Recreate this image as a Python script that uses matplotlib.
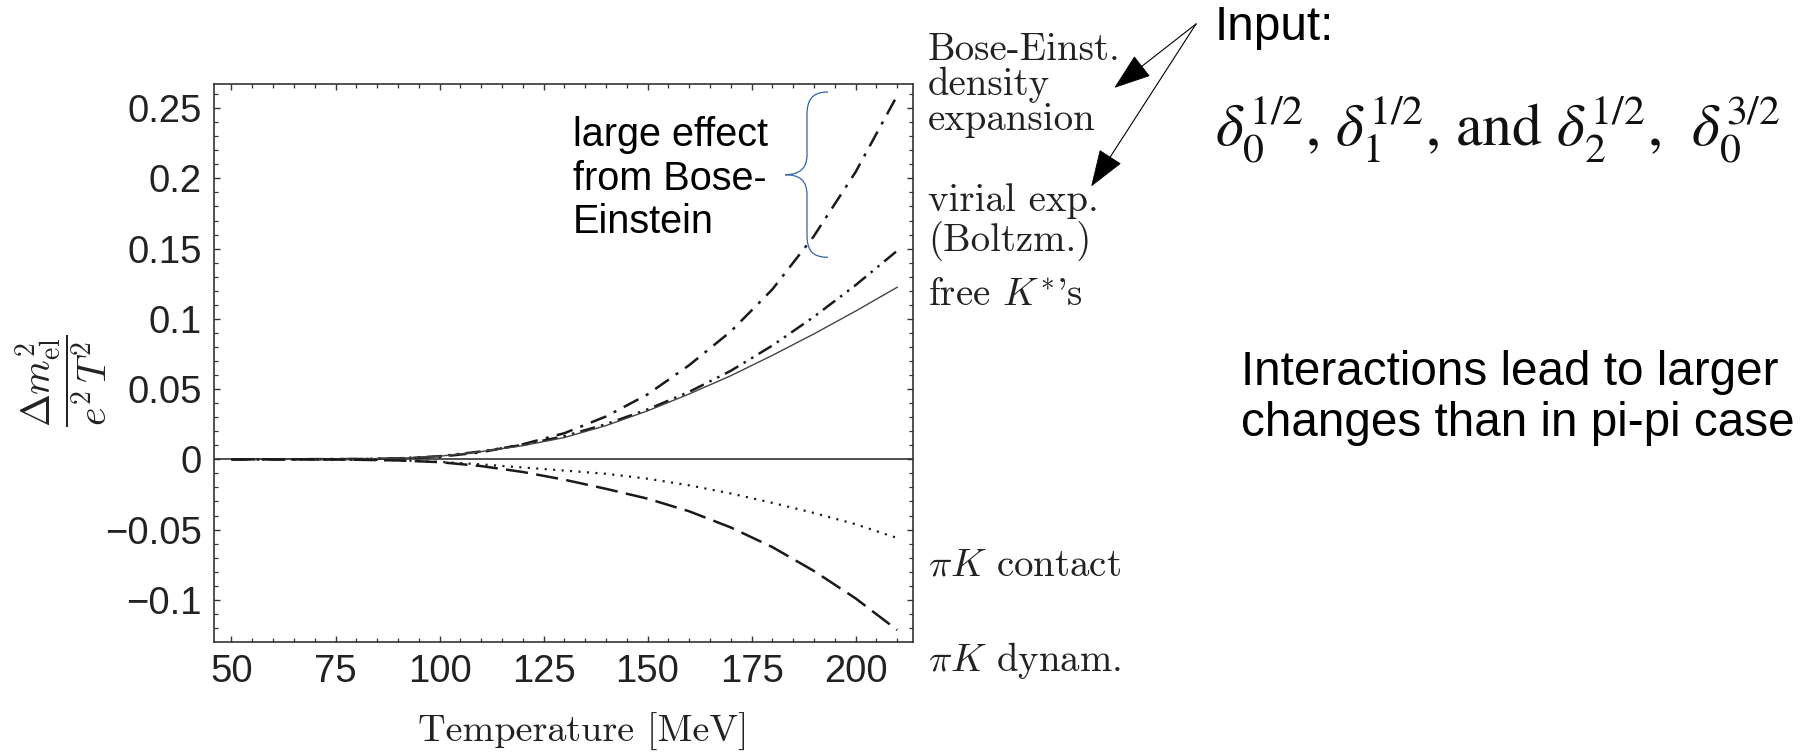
import numpy as np
import matplotlib
matplotlib.use("Agg")
import matplotlib.pyplot as plt
from matplotlib.path import Path
from matplotlib.patches import PathPatch, Polygon
from matplotlib.lines import Line2D
from matplotlib.transforms import IdentityTransform
from matplotlib.ticker import MultipleLocator, FixedLocator, FixedFormatter

# ---- data: Delta m_el^2 / (e^2 T^2) versus temperature [MeV] ----
temperature = [50, 60, 70, 80, 90, 100, 110, 120, 130, 140, 150, 160, 170, 180, 190, 200, 210]
bose_einstein = [0.0, 0.0, 0.0001, 0.0002, 0.0006, 0.0018, 0.0050, 0.0107, 0.0186, 0.0305,
                 0.0462, 0.0670, 0.0910, 0.1210, 0.1590, 0.2045, 0.2590]
virial_boltzmann = [0.0, 0.0, 0.0001, 0.0002, 0.0007, 0.0022, 0.0056, 0.0103, 0.0165, 0.0250,
                    0.0355, 0.0480, 0.0630, 0.0810, 0.1015, 0.1240, 0.1485]
free_kstar = [0.0, 0.0, 0.0001, 0.0002, 0.0007, 0.0022, 0.0055, 0.0097, 0.0155, 0.0240,
              0.0345, 0.0465, 0.0595, 0.0740, 0.0893, 0.1055, 0.1225]
pik_contact = [0.0, 0.0, -0.0001, -0.0002, -0.0007, -0.0018, -0.0036, -0.0058, -0.0080, -0.0103,
               -0.0138, -0.0185, -0.0243, -0.0310, -0.0382, -0.0462, -0.0560]
pik_dynamic = [0.0, 0.0, -0.0001, -0.0003, -0.0008, -0.0020, -0.0048, -0.0090, -0.0145, -0.0210,
               -0.0280, -0.0370, -0.0485, -0.0625, -0.0795, -0.0990, -0.1215]

xticks = [50, 75, 100, 125, 150, 175, 200]
xtick_labels = ["50", "75", "100", "125", "150", "175", "200"]
yticks = [-0.1, -0.05, 0.0, 0.05, 0.1, 0.15, 0.2, 0.25]
ytick_labels = ["\u22120.1", "\u22120.05", "0", "0.05", "0.1", "0.15", "0.2", "0.25"]

side_labels = [
    ("Bose-Einst.", 60), ("density", 95), ("expansion", 130),
    ("virial exp.", 211), ("(Boltzm.)", 251), (r"free $K^{*}$'s", 305),
    (r"$\pi K$ contact", 576), (r"$\pi K$ dynam.", 671),
]

plt.rcParams["mathtext.fontset"] = "cm"
plt.rcParams["lines.scale_dashes"] = False

W, H = 1820, 753
fig = plt.figure(figsize=(W / 100, H / 100), dpi=100)
fig.patch.set_facecolor("white")


def fx(x, y):
    """figure-fraction position from pixel position measured from the top-left"""
    return x / W, 1 - y / H


ax_l, ax_r, ax_t, ax_b = 214.3, 913.0, 84.0, 641.5
ax = fig.add_axes([ax_l / W, 1 - ax_b / H, (ax_r - ax_l) / W, (ax_b - ax_t) / H])

ink = "#1a1a1a"
ax.axhline(0, color="#222222", lw=1.1, zorder=1)
ax.plot(temperature, bose_einstein, color=ink, lw=1.8, ls=(0, (12, 6, 2.2, 6)))
ax.plot(temperature, virial_boltzmann, color=ink, lw=1.8,
        ls=(0, (11, 4.5, 1.8, 4.5, 1.8, 4.5)))
ax.plot(temperature, free_kstar, color="#444444", lw=1.0, ls="-")
ax.plot(temperature, pik_contact, color=ink, lw=1.6, ls=(0, (1.5, 4.6)))
ax.plot(temperature, pik_dynamic, color=ink, lw=1.8, ls=(0, (16, 6)))

ax.set_xlim(45.87, 213.8)
ax.set_ylim(-0.1297, 0.2672)

ax.xaxis.set_major_locator(FixedLocator(xticks))
ax.xaxis.set_major_formatter(FixedFormatter(xtick_labels))
ax.yaxis.set_major_locator(FixedLocator(yticks))
ax.yaxis.set_major_formatter(FixedFormatter(ytick_labels))
ax.xaxis.set_minor_locator(MultipleLocator(5))
ax.yaxis.set_minor_locator(MultipleLocator(0.01))
ax.tick_params(which="both", direction="in", top=True, right=True, color="#333333")
ax.tick_params(which="major", length=4.5, width=1.0, labelsize=27.5, labelcolor="#222222", pad=9)
ax.tick_params(which="minor", length=2.6, width=0.9)
for lab in ax.get_xticklabels() + ax.get_yticklabels():
    lab.set_fontfamily("Liberation Sans")
for sp in ax.spines.values():
    sp.set_linewidth(1.2)
    sp.set_color("#333333")

# axis titles
fig.text(*fx(583, 742), "Temperature [MeV]", fontfamily="cmr10", fontsize=27.5,
         ha="center", va="baseline", color="#222222")
fig.text(*fx(62, 381), r"$\dfrac{\Delta m^2_{\rm el}}{e^2\,T^2}$", fontsize=28.5,
         rotation=90, ha="center", va="center", color="#222222")

# curve labels to the right of the frame
for txt, yb in side_labels:
    fig.text(*fx(928, yb), txt, fontfamily="cmr10", fontsize=28, ha="left",
             va="baseline", color="#222222")

# annotation inside the frame
for txt, yb in [("large effect", 146.5), ("from Bose-", 189.5), ("Einstein", 233)]:
    fig.text(*fx(573, yb), txt, fontfamily="Liberation Sans", fontsize=28.5,
             ha="left", va="baseline", color="black")

# curly brace
def px(x, y):
    return (x, H - y)

brace_pts = [(828, 92), (812, 92), (807, 100), (807, 115), (807, 155),
             (807, 168), (800, 174.7), (785, 174.7),
             (800, 174.7), (807, 181), (807, 195), (807, 235),
             (807, 250), (812, 257.3), (828, 257.3)]
brace_codes = [Path.MOVETO, Path.CURVE4, Path.CURVE4, Path.CURVE4, Path.LINETO,
               Path.CURVE4, Path.CURVE4, Path.CURVE4,
               Path.CURVE4, Path.CURVE4, Path.CURVE4, Path.LINETO,
               Path.CURVE4, Path.CURVE4, Path.CURVE4]
brace = PathPatch(Path([px(*p) for p in brace_pts], brace_codes), fill=False,
                  edgecolor="#3465a4", lw=0.9, transform=IdentityTransform())
fig.add_artist(brace)

# arrows from the "Input" note
def arrow(x0, y0, x1, y1, length=34, half_width=12):
    d = np.array([x1 - x0, y1 - y0], dtype=float)
    u = d / np.hypot(*d)
    n = np.array([-u[1], u[0]])
    base = np.array([x1, y1]) - length * u
    fig.add_artist(Line2D([px(x0, y0)[0], px(*base)[0]], [px(x0, y0)[1], px(*base)[1]],
                          color="black", lw=0.8, transform=IdentityTransform()))
    head = [px(x1, y1), px(*(base + half_width * n)), px(*(base - half_width * n))]
    fig.add_artist(Polygon(head, closed=True, facecolor="black", edgecolor="black",
                           lw=0.5, transform=IdentityTransform()))

arrow(1196, 24, 1115, 87.3)
arrow(1196, 24, 1091.7, 185.7)

note_font = "Liberation Sans"
fig.text(*fx(1215, 40), "Input:", fontfamily=note_font, fontsize=34.4, ha="left",
         va="baseline", color="black")
fig.text(*fx(1215, 146), r"$\delta_0^{1/2}$, $\delta_1^{1/2}$, and $\delta_2^{1/2}$,  $\delta_0^{3/2}$",
         fontfamily="STIXGeneral", math_fontfamily="stix", fontsize=43, ha="left",
         va="baseline", color="#111111")
fig.text(*fx(1241, 385), "Interactions lead to larger", fontfamily=note_font, fontsize=34.3,
         ha="left", va="baseline", color="black")
fig.text(*fx(1241, 436), "changes than in pi-pi case", fontfamily=note_font, fontsize=34.3,
         ha="left", va="baseline", color="black")

fig.savefig("out.png", dpi=100, facecolor="white")
